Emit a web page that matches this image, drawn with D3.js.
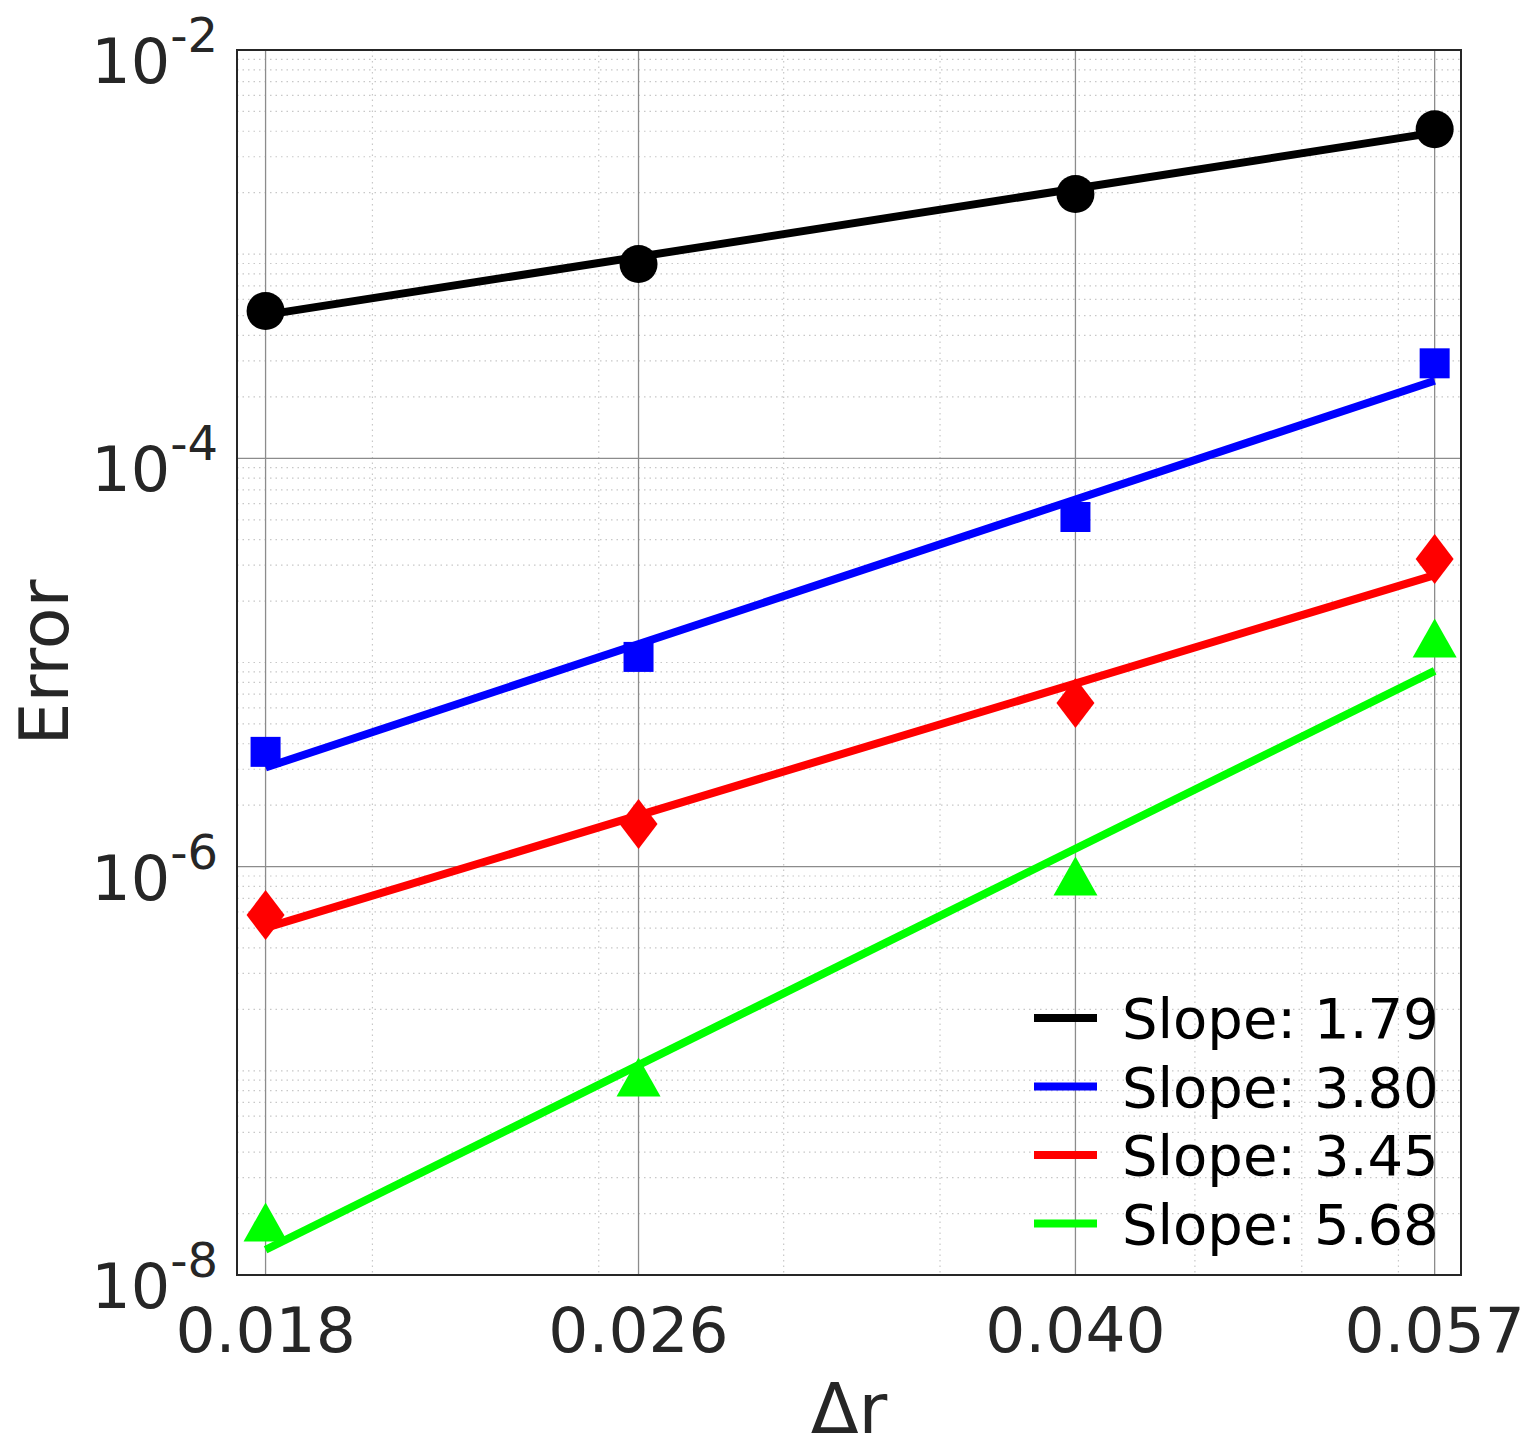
<!DOCTYPE html>
<html lang="en">
<head>
<meta charset="UTF-8">
<title>Error vs dr</title>
<style>
  body { margin: 0; background: #fff; }
  svg { display: block; }
  text { font-family: "DejaVu Sans", sans-serif; }
</style>
</head>
<body>
<script src="https://cdnjs.cloudflare.com/ajax/libs/d3/7.8.5/d3.min.js"></script>
<script>
// grid spacing (x values) and tick labels
const dr = [0.018, 0.026, 0.040, 0.057];
const drLabels = ["0.018", "0.026", "0.040", "0.057"];
const yTickExps = [-8, -6, -4, -2];

// measured errors, one array per series
const errBlack = [5.27e-4, 8.95e-4, 1.97e-3, 4.09e-3];
const errBlue  = [3.65e-6, 1.065e-5, 5.16e-5, 2.92e-4];
const errRed   = [5.79e-7, 1.62e-6, 6.34e-6, 3.21e-5];
const errGreen = [1.82e-8, 9.33e-8, 9.0e-7, 1.32e-5];

// fitted lines, value at first and last dr
const fitBlack = [5.04e-4, 3.94e-3];
const fitBlue  = [3.06e-6, 2.40e-4];
const fitRed   = [5.01e-7, 2.68e-5];
const fitGreen = [1.33e-8, 9.1e-6];

const slopeLabels = ["Slope: 1.79", "Slope: 3.80", "Slope: 3.45", "Slope: 5.68"];

const series = [
    {err: errBlack, fit: fitBlack, color: "#000000", marker: "circle"},
    {err: errBlue,  fit: fitBlue,  color: "#0000ff", marker: "square"},
    {err: errRed,   fit: fitRed,   color: "#ff0000", marker: "diamond"},
    {err: errGreen, fit: fitGreen, color: "#00ff00", marker: "triangle"}
]

const W = 1533, H = 1449
const pLeft = 237, pRight = 1461, pTop = 50, pBottom = 1275

const svg = d3.select("body").append("svg")
    .attr("width", W)
    .attr("height", H)

svg.append("rect").attr("width", W).attr("height", H).attr("fill", "#fff")

const x = d3.scaleLog().domain([0.0175, 0.0585]).range([pLeft, pRight])
const y = d3.scaleLog().domain([1e-8, 1e-2]).range([pBottom, pTop])

const majorY = yTickExps.map(e => Math.pow(10, e))
const near = (a, b) => Math.abs(Math.log10(a) - Math.log10(b)) < 1e-6

// minor grid (dotted)
const grid = svg.append("g")
grid.selectAll(".ymin")
    .data(y.ticks().filter(v => !majorY.some(m => near(m, v))))
    .enter().append("line")
        .attr("x1", pLeft).attr("x2", pRight)
        .attr("y1", d => y(d)).attr("y2", d => y(d))
        .attr("stroke", "#c8c8c8")
        .attr("stroke-width", 1.2)
        .attr("stroke-dasharray", "1.5,4")

grid.selectAll(".xmin")
    .data(x.ticks().filter(v => !dr.some(m => near(m, v))))
    .enter().append("line")
        .attr("x1", d => x(d)).attr("x2", d => x(d))
        .attr("y1", pTop).attr("y2", pBottom)
        .attr("stroke", "#c8c8c8")
        .attr("stroke-width", 1.2)
        .attr("stroke-dasharray", "1.5,4")

// major grid
grid.selectAll(".ymaj")
    .data(majorY)
    .enter().append("line")
        .attr("x1", pLeft).attr("x2", pRight)
        .attr("y1", d => y(d)).attr("y2", d => y(d))
        .attr("stroke", "#8c8c8c")
        .attr("stroke-width", 1.3)

grid.selectAll(".xmaj")
    .data(dr)
    .enter().append("line")
        .attr("x1", d => x(d)).attr("x2", d => x(d))
        .attr("y1", pTop).attr("y2", pBottom)
        .attr("stroke", "#8c8c8c")
        .attr("stroke-width", 1.3)

// markers
const markerPath = {
    circle: "M-19,0A19,19 0 1,0 19,0A19,19 0 1,0 -19,0Z",
    square: "M-15,-15H15V15H-15Z",
    diamond: "M0,-25L19,0L0,25L-19,0Z",
    triangle: "M0,-19.5L22,19.5L-22,19.5Z"
}

series.forEach(s => {
    svg.append("g").selectAll("path")
        .data(s.err)
        .enter().append("path")
            .attr("d", markerPath[s.marker])
            .attr("transform", (d, i) => `translate(${x(dr[i])},${y(d)})`)
            .attr("fill", s.color)
})

// fitted lines
const fitLine = d3.line().x(d => x(d[0])).y(d => y(d[1]))
series.forEach(s => {
    svg.append("path")
        .attr("d", fitLine([[dr[0], s.fit[0]], [dr[dr.length - 1], s.fit[1]]]))
        .attr("fill", "none")
        .attr("stroke", s.color)
        .attr("stroke-width", 8)
})

// axes box
svg.append("rect")
    .attr("x", pLeft).attr("y", pTop)
    .attr("width", pRight - pLeft).attr("height", pBottom - pTop)
    .attr("fill", "none")
    .attr("stroke", "#262626")
    .attr("stroke-width", 2)

// x tick labels
svg.append("g").selectAll("text")
    .data(dr)
    .enter().append("text")
        .attr("x", d => x(d))
        .attr("y", 1352)
        .attr("text-anchor", "middle")
        .attr("font-size", 63)
        .attr("fill", "#262626")
        .text((d, i) => drLabels[i])

// y tick labels 10^e
const yl = svg.append("g").selectAll("text")
    .data(yTickExps)
    .enter().append("text")
        .attr("x", 218)
        .attr("y", d => y(Math.pow(10, d)) + 33)
        .attr("text-anchor", "end")
        .attr("fill", "#262626")
yl.append("tspan").attr("font-size", 62).text("10")
yl.append("tspan").attr("font-size", 48).attr("dy", -31).text(d => d)

// axis labels
svg.append("text")
    .attr("transform", `translate(68,${(pTop + pBottom) / 2}) rotate(-90)`)
    .attr("text-anchor", "middle")
    .attr("font-size", 68)
    .attr("fill", "#262626")
    .text("Error")

svg.append("text")
    .attr("x", (pLeft + pRight) / 2)
    .attr("y", 1433)
    .attr("text-anchor", "middle")
    .attr("font-size", 70)
    .attr("fill", "#262626")
    .text("\u0394r")

// legend
const leg = svg.append("g").selectAll("g")
    .data(series)
    .enter().append("g")
        .attr("transform", (d, i) => `translate(1034,${1018 + i * 68.5})`)
leg.append("line")
    .attr("x1", 0).attr("x2", 63)
    .attr("stroke", d => d.color)
    .attr("stroke-width", 8)
leg.append("text")
    .attr("x", 88)
    .attr("y", 20)
    .attr("font-size", 56)
    .attr("fill", "#000")
    .text((d, i) => slopeLabels[i])
</script>
</body>
</html>
